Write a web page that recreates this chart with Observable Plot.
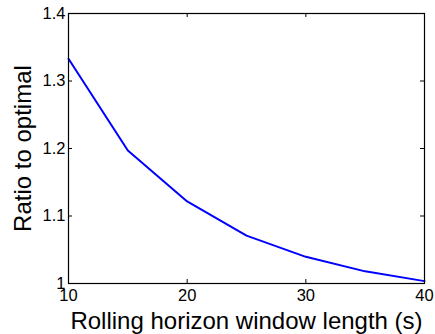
<!DOCTYPE html>
<html>
<head>
<meta charset="utf-8">
<script src="https://cdn.jsdelivr.net/npm/d3@7"></script>
<script src="https://cdn.jsdelivr.net/npm/@observablehq/plot@0.6"></script>
<style>
  html, body { margin: 0; padding: 0; background: #fff; }
  svg { display: block; }
</style>
</head>
<body>
<div id="chart"></div>
<script>
const windowLength = [10, 15, 20, 25, 30, 35, 40];
const ratio = [1.333, 1.197, 1.1215, 1.071, 1.0395, 1.018, 1.0035];
const xTicks = [10, 20, 30, 40];
const yTicks = [1, 1.1, 1.2, 1.3, 1.4];
const yTickLabels = ["1", "1.1", "1.2", "1.3", "1.4"];
const xLabel = "Rolling horizon window length (s)";
const yLabel = "Ratio to optimal";

const W = 435, H = 334;
const mL = 68, mR = 11, mT = 13, mB = 51;
const pw = W - mL - mR, ph = H - mT - mB;
const tk = 4;

const data = windowLength.map((x, i) => ({x, y: ratio[i]}));

const chart = Plot.plot({
  width: W,
  height: H,
  marginLeft: mL,
  marginRight: mR,
  marginTop: mT,
  marginBottom: mB,
  style: {fontFamily: "'Liberation Sans', Arial, Helvetica, sans-serif", background: "white", color: "black"},
  x: {domain: [10, 40]},
  y: {domain: [1, 1.4]},
  marks: [
    Plot.line(data, {x: "x", y: "y", stroke: "#0000ff", strokeWidth: 2}),
    Plot.tickX(xTicks, {x: d => d, stroke: "black", strokeWidth: 1, insetTop: ph - tk}),
    Plot.tickX(xTicks, {x: d => d, stroke: "black", strokeWidth: 1, insetBottom: ph - tk}),
    Plot.tickY(yTicks, {y: d => d, stroke: "black", strokeWidth: 1, insetRight: pw - tk}),
    Plot.tickY(yTicks, {y: d => d, stroke: "black", strokeWidth: 1, insetLeft: pw - tk}),
    Plot.frame({stroke: "black", strokeWidth: 1.2}),
    Plot.axisX({ticks: xTicks, tickSize: 0, tickPadding: 6, fontSize: 16.5, label: null, tickFormat: d => String(d)}),
    Plot.axisY({ticks: yTicks, tickSize: 0, tickPadding: 3, fontSize: 16.5, label: null, tickFormat: (d, i) => yTickLabels[i]}),
    Plot.text([xLabel], {text: d => d, frameAnchor: "bottom", lineAnchor: "bottom", textAnchor: "middle", dy: 45, fontSize: 24, fill: "black"}),
    Plot.text([yLabel], {text: d => d, frameAnchor: "left", textAnchor: "middle", lineAnchor: "middle", dx: -45, rotate: -90, fontSize: 24, fill: "black"})
  ]
});
document.getElementById("chart").appendChild(chart);
</script>
</body>
</html>
